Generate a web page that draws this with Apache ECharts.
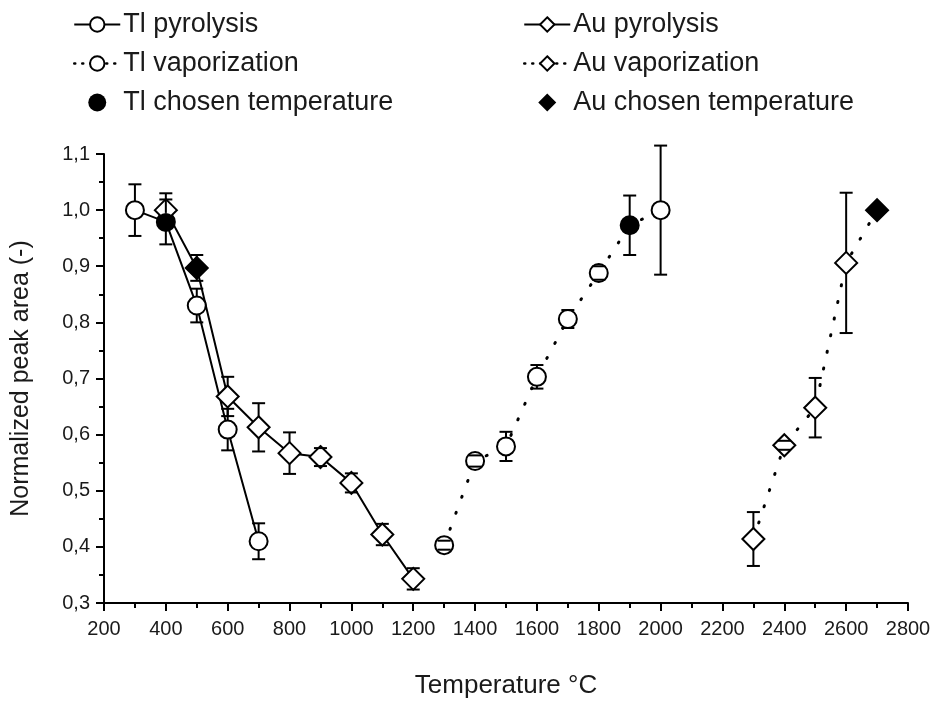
<!DOCTYPE html>
<html>
<head>
<meta charset="utf-8">
<script src="https://cdn.jsdelivr.net/npm/echarts@6/dist/echarts.min.js"></script>
<style>
html, body { margin: 0; padding: 0; background: #fff; }
#chart { width: 938px; height: 704px; }
</style>
</head>
<body>
<div id="chart"></div>
<script>
// temperatures (°C), normalized areas and error half-widths
const tlPyroT = [300, 400, 500, 600, 700]
const tlPyroY = [1.0, 0.979, 0.83, 0.609, 0.41]
const tlPyroErr = [0.046, 0.04, 0.03, 0.037, 0.032]

const auPyroT = [400, 500, 600, 700, 800, 900, 1000, 1100, 1200]
const auPyroY = [1.0, 0.897, 0.668, 0.613, 0.567, 0.56, 0.514, 0.422, 0.343]
const auPyroErr = [0.03, 0.023, 0.035, 0.043, 0.037, 0.016, 0.017, 0.019, 0.019]

const tlVapT = [1300, 1400, 1500, 1600, 1700, 1800, 1900, 2000]
const tlVapY = [0.403, 0.553, 0.579, 0.703, 0.806, 0.888, 0.973, 1.0]
const tlVapErr = [0.008, 0.01, 0.026, 0.021, 0.016, 0.012, 0.053, 0.115]

const auVapT = [2300, 2400, 2500, 2600, 2700]
const auVapY = [0.414, 0.581, 0.648, 0.906, 1.0]
const auVapErr = [0.048, 0.008, 0.053, 0.125, 0]

const tlChosenT = [400, 1900]
const tlChosenY = [0.979, 0.973]
const auChosenT = [500, 2700]
const auChosenY = [0.897, 1.0]

const xTicks = { min: 200, max: 2800, step: 200 }
const yTicks = { min: 0.3, max: 1.1, step: 0.1 }

const FONT = 'Liberation Sans, Arial, sans-serif'
const DIAMOND = 'path://M10,0L20,10L10,20L0,10Z'

function pairs (xs, ys) {
  return xs.map((x, i) => [x, ys[i]])
}

function lineSeries (name, xs, ys, symbol, size, dotted) {
  return {
    name: name,
    type: 'line',
    data: pairs(xs, ys),
    symbol: symbol,
    symbolSize: size,
    showAllSymbol: true,
    z: 2,
    itemStyle: { color: '#fff', borderColor: '#000', borderWidth: 2 },
    lineStyle: dotted
      ? { color: '#000', width: 3, type: [1, 16], cap: 'round' }
      : { color: '#000', width: 2 },
    emphasis: { disabled: true }
  }
}

function chosenSeries (name, xs, ys, symbol, size) {
  return {
    name: name,
    type: 'scatter',
    data: pairs(xs, ys),
    symbol: symbol,
    symbolSize: size,
    z: 3,
    itemStyle: { color: '#000', opacity: 1 },
    emphasis: { disabled: true }
  }
}

// vertical error bars with caps, drawn from the marker edge outward
function errorSeries (xs, ys, errs, half) {
  return {
    type: 'custom',
    silent: true,
    z: 5,
    data: xs.map((x, i) => [x, ys[i], errs[i]]),
    encode: { x: 0, y: 1 },
    renderItem (params, api) {
      const err = api.value(2)
      const children = []
      if (err > 0) {
        const c = api.coord([api.value(0), api.value(1)])
        const top = api.coord([api.value(0), api.value(1) + err])[1]
        const bot = api.coord([api.value(0), api.value(1) - err])[1]
        const st = { stroke: '#000', lineWidth: 2 }
        if (top < c[1] - half) {
          children.push({ type: 'line', shape: { x1: c[0], y1: top, x2: c[0], y2: c[1] - half }, style: st })
        }
        if (bot > c[1] + half) {
          children.push({ type: 'line', shape: { x1: c[0], y1: c[1] + half, x2: c[0], y2: bot }, style: st })
        }
        children.push({ type: 'line', shape: { x1: c[0] - 6.5, y1: top, x2: c[0] + 6.5, y2: top }, style: st })
        children.push({ type: 'line', shape: { x1: c[0] - 6.5, y1: bot, x2: c[0] + 6.5, y2: bot }, style: st })
      }
      return { type: 'group', children: children }
    }
  }
}

const legendBase = {
  orient: 'vertical',
  top: 6,
  itemWidth: 46,
  itemHeight: 18,
  itemGap: 12,
  selectedMode: false,
  textStyle: { fontFamily: FONT, fontSize: 27, color: '#1a1a1a', padding: [0, 0, 0, -2] }
}
const dottedLegend = { type: [1, 7], width: 2.5, cap: 'round' }

const chart = echarts.init(document.getElementById('chart'))
chart.setOption({
  animation: false,
  backgroundColor: '#fff',
  grid: { left: 104, right: 30, top: 154, bottom: 93 },
  legend: [
    Object.assign({}, legendBase, {
      left: 68,
      data: [
        'Tl pyrolysis',
        { name: 'Tl vaporization', lineStyle: dottedLegend },
        'Tl chosen temperature'
      ]
    }),
    Object.assign({}, legendBase, {
      left: 518,
      data: [
        'Au pyrolysis',
        { name: 'Au vaporization', lineStyle: dottedLegend },
        { name: 'Au chosen temperature', icon: DIAMOND }
      ]
    })
  ],
  xAxis: {
    type: 'value',
    min: xTicks.min,
    max: xTicks.max,
    interval: xTicks.step,
    name: 'Temperature °C',
    nameLocation: 'middle',
    nameGap: 70,
    nameTextStyle: { fontFamily: FONT, fontSize: 26, color: '#1a1a1a' },
    axisLine: { lineStyle: { color: '#000', width: 2 } },
    axisTick: { length: 8, lineStyle: { color: '#000', width: 2 } },
    minorTick: { show: true, splitNumber: 2, length: 5, lineStyle: { color: '#000', width: 2 } },
    splitLine: { show: false },
    axisLabel: {
      fontFamily: FONT, fontSize: 20, color: '#1a1a1a', margin: 16,
      formatter: v => String(v)
    }
  },
  yAxis: {
    type: 'value',
    min: yTicks.min,
    max: yTicks.max,
    interval: yTicks.step,
    name: 'Normalized peak area (-)',
    nameLocation: 'middle',
    nameGap: 70,
    nameTextStyle: { fontFamily: FONT, fontSize: 25, color: '#1a1a1a' },
    axisLine: { show: true, lineStyle: { color: '#000', width: 2 } },
    axisTick: { show: true, length: 8, lineStyle: { color: '#000', width: 2 } },
    minorTick: { show: true, splitNumber: 2, length: 5, lineStyle: { color: '#000', width: 2 } },
    splitLine: { show: false },
    axisLabel: {
      fontFamily: FONT, fontSize: 20, color: '#1a1a1a', margin: 14,
      formatter: v => v.toFixed(1).replace('.', ',')
    }
  },
  series: [
    lineSeries('Tl pyrolysis', tlPyroT, tlPyroY, 'circle', 18, false),
    lineSeries('Au pyrolysis', auPyroT, auPyroY, 'diamond', 22, false),
    lineSeries('Tl vaporization', tlVapT, tlVapY, 'circle', 18, true),
    lineSeries('Au vaporization', auVapT, auVapY, 'diamond', 22, true),
    chosenSeries('Tl chosen temperature', tlChosenT, tlChosenY, 'circle', 18),
    chosenSeries('Au chosen temperature', auChosenT, auChosenY, 'diamond', 22),
    errorSeries(tlPyroT, tlPyroY, tlPyroErr, 9),
    errorSeries(auPyroT, auPyroY, auPyroErr, 11),
    errorSeries(tlVapT, tlVapY, tlVapErr, 9),
    errorSeries(auVapT, auVapY, auVapErr, 11)
  ]
})
</script>
</body>
</html>
